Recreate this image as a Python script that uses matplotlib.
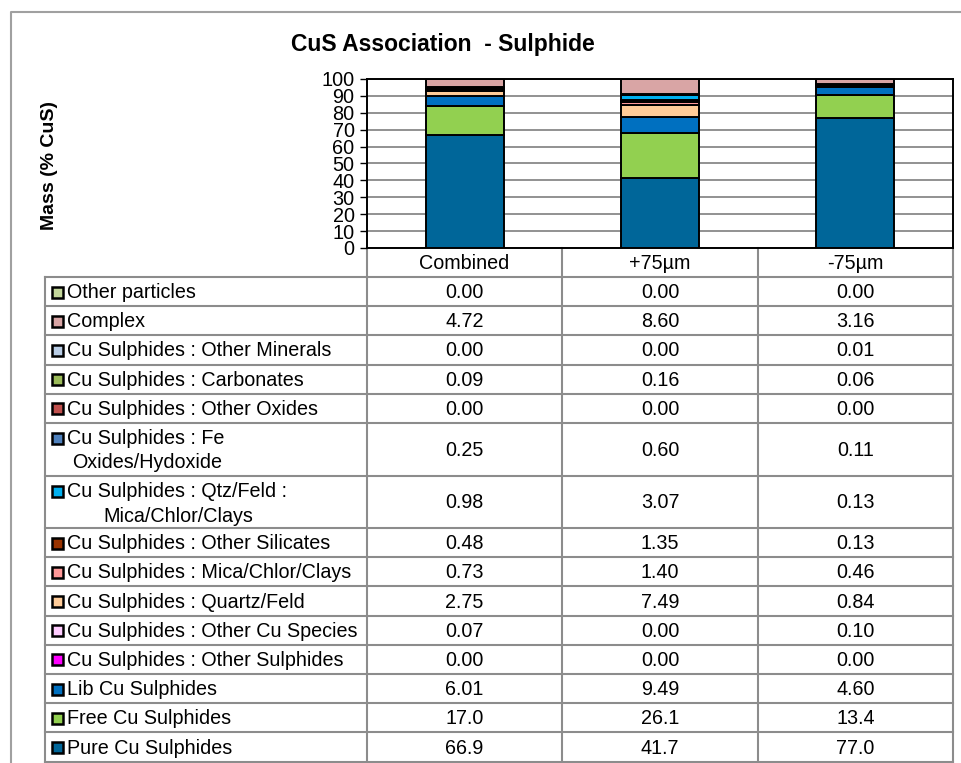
import numpy as np
import matplotlib
matplotlib.use("Agg")
import matplotlib.pyplot as plt
from matplotlib.patches import Rectangle

plt.rcParams['font.family'] = ['Liberation Sans', 'DejaVu Sans']

# categories (columns) and series, bottom of stack first
categories = ['Combined', '+75µm', '-75µm']
series = ['Pure Cu Sulphides', 'Free Cu Sulphides', 'Lib Cu Sulphides',
          'Cu Sulphides : Other Sulphides', 'Cu Sulphides : Other Cu Species',
          'Cu Sulphides : Quartz/Feld', 'Cu Sulphides : Mica/Chlor/Clays',
          'Cu Sulphides : Other Silicates', 'Cu Sulphides : Qtz/Feld : Mica/Chlor/Clays',
          'Cu Sulphides : Fe Oxides/Hydoxide', 'Cu Sulphides : Other Oxides',
          'Cu Sulphides : Carbonates', 'Cu Sulphides : Other Minerals',
          'Complex', 'Other particles']
combined = [66.9, 17.0, 6.01, 0.00, 0.07, 2.75, 0.73, 0.48, 0.98, 0.25, 0.00, 0.09, 0.00, 4.72, 0.00]
plus75 = [41.7, 26.1, 9.49, 0.00, 0.00, 7.49, 1.40, 1.35, 3.07, 0.60, 0.00, 0.16, 0.00, 8.60, 0.00]
minus75 = [77.0, 13.4, 4.60, 0.00, 0.10, 0.84, 0.46, 0.13, 0.13, 0.11, 0.00, 0.06, 0.01, 3.16, 0.00]
colors = ['#006699', '#92D050', '#0070C0', '#FF00FF', '#FFCCFF', '#FFCC99',
          '#FF9999', '#993300', '#00B0F0', '#4F81BD', '#C0504D', '#9BBB59',
          '#B9CDE5', '#D9A5A5', '#C4D79B']

values = np.array([combined, plus75, minus75]).T  # rows=series, cols=categories

def fmt(v):
    return f'{v:.1f}' if v >= 10 else f'{v:.2f}'

W, H = 961, 763
fig = plt.figure(figsize=(W / 100, H / 100), dpi=100)

# background axes in pixel coordinates for frame and table
bg = fig.add_axes([0, 0, 1, 1])
bg.set_xlim(0, W)
bg.set_ylim(H, 0)
bg.axis('off')

fs = 14.2
grey = '#8C8C8C'

# outer frame
bg.plot([11, 11, W + 5], [H + 5, 12, 12], color='#A0A0A0', lw=1.5)

# plot area
x0, x1, ytop, ybot = 367, 953, 79, 248
ax = fig.add_axes([x0 / W, 1 - ybot / H, (x1 - x0) / W, (ybot - ytop) / H])
x = np.arange(len(categories))
bottom = np.zeros(len(categories))
for i, name in enumerate(series):
    ax.bar(x, values[i], 0.4, bottom=bottom, color=colors[i],
           edgecolor='black', linewidth=1.4, zorder=3)
    bottom += values[i]
ax.set_xlim(-0.5, 2.5)
ax.set_ylim(0, 100)
ax.set_yticks(np.arange(0, 101, 10))
ax.tick_params(axis='y', labelsize=14.3, length=5, pad=4, width=1)
ax.set_xticks([])
ax.yaxis.grid(True, color='#7F7F7F', lw=1.2, zorder=0)
for s in ax.spines.values():
    s.set_color('black')
    s.set_linewidth(1.4)
ax.set_facecolor('none')

fig.text(443 / W, 1 - 45 / H, 'CuS Association  - Sulphide', fontsize=16.5,
         fontweight='bold', ha='center', va='center')
fig.text(50 / W, 1 - 165 / H, 'Mass (% CuS)', fontsize=14, fontweight='bold',
         rotation=90, ha='center', va='center')

# table
col_x = [45, 367, 562, 758, 953]
header_top, header_bot = 248, 277
row_labels = [
    ['Other particles'], ['Complex'], ['Cu Sulphides : Other Minerals'],
    ['Cu Sulphides : Carbonates'], ['Cu Sulphides : Other Oxides'],
    ['Cu Sulphides : Fe', 'Oxides/Hydoxide'],
    ['Cu Sulphides : Qtz/Feld :', 'Mica/Chlor/Clays'],
    ['Cu Sulphides : Other Silicates'], ['Cu Sulphides : Mica/Chlor/Clays'],
    ['Cu Sulphides : Quartz/Feld'], ['Cu Sulphides : Other Cu Species'],
    ['Cu Sulphides : Other Sulphides'], ['Lib Cu Sulphides'],
    ['Free Cu Sulphides'], ['Pure Cu Sulphides']]
second_indent = {5: 72, 6: 103}
row_h = [29.2] * 5 + [53, 52] + [29.2] * 8

# header
for j, c in enumerate(categories):
    cx = (col_x[j + 1] + col_x[j + 2]) / 2
    bg.text(cx, (header_top + header_bot) / 2 + 1, c, fontsize=fs, ha='center', va='center')
for xv in col_x[1:]:
    bg.plot([xv, xv], [header_top, 762], color=grey, lw=1.5, zorder=1)
bg.plot([col_x[0], col_x[0]], [header_bot, 762], color=grey, lw=1.5)

y = header_bot
bg.plot([col_x[0], col_x[-1]], [y, y], color=grey, lw=1.5)
for r in range(len(row_labels)):
    h = row_h[r]
    si = len(series) - 1 - r
    lines = row_labels[r]
    if len(lines) == 1:
        ly = y + h / 2
        bg.text(67, ly + 1, lines[0], fontsize=fs, ha='left', va='center')
    else:
        ly = y + 15
        bg.text(67, ly + 1, lines[0], fontsize=fs, ha='left', va='center')
        bg.text(second_indent[r], y + 40, lines[1], fontsize=fs, ha='left', va='center')
    bg.add_patch(Rectangle((52, ly - 5), 11, 11, facecolor=colors[si],
                           edgecolor='black', lw=1.8))
    for j in range(len(categories)):
        cx = (col_x[j + 1] + col_x[j + 2]) / 2
        bg.text(cx, y + h / 2 + 1, fmt(values[si, j]), fontsize=fs, ha='center', va='center')
    y += h
    bg.plot([col_x[0], col_x[-1]], [y, y], color=grey, lw=1.5)

fig.savefig('out.png', dpi=100)
